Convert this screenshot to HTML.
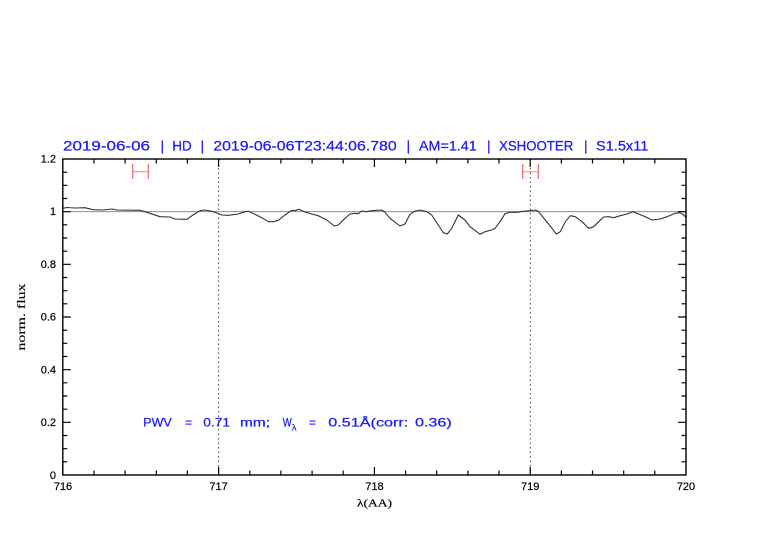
<!DOCTYPE html>
<html>
<head>
<meta charset="utf-8">
<style>
html,body{margin:0;padding:0;background:#fff;}
svg{display:block;}
text{font-family:"Liberation Sans",Arial,sans-serif;}
</style>
</head>
<body>
<svg width="782" height="542" viewBox="0 0 782 542" xmlns="http://www.w3.org/2000/svg">
<rect width="782" height="542" fill="#fff"/>

<!-- title -->
<g font-size="14" fill="#1a1aff" stroke="#1a1aff" stroke-width="0.25">
<text x="63" y="150.3" textLength="87" lengthAdjust="spacingAndGlyphs">2019-06-06</text>
<text x="160.5" y="150.3">|</text>
<text x="172.3" y="150.3" textLength="19.4" lengthAdjust="spacingAndGlyphs">HD</text>
<text x="200.5" y="150.3">|</text>
<text x="213.3" y="150.3" textLength="183.4" lengthAdjust="spacingAndGlyphs">2019-06-06T23:44:06.780</text>
<text x="406.5" y="150.3">|</text>
<text x="419" y="150.3" textLength="57.7" lengthAdjust="spacingAndGlyphs">AM=1.41</text>
<text x="487" y="150.3">|</text>
<text x="499" y="150.3" textLength="74.3" lengthAdjust="spacingAndGlyphs">XSHOOTER</text>
<text x="584" y="150.3">|</text>
<text x="596" y="150.3" textLength="52.3" lengthAdjust="spacingAndGlyphs">S1.5x11</text>
</g>

<!-- reference line at 1 -->
<line x1="62.8" y1="211.6" x2="686" y2="211.6" stroke="#e86a6a" stroke-width="1"/>

<!-- dotted verticals -->
<line x1="218.6" y1="159" x2="218.6" y2="475" stroke="#444" stroke-width="1" stroke-dasharray="1.5,3"/>
<line x1="530.3" y1="159" x2="530.3" y2="475" stroke="#444" stroke-width="1" stroke-dasharray="1.5,3"/>

<!-- error bars -->
<g stroke-width="1.3">
<line x1="132.7" y1="171.7" x2="148.3" y2="171.7" stroke="#f5a0a0"/>
<line x1="132.7" y1="164" x2="132.7" y2="179" stroke="#f07070"/>
<line x1="148.3" y1="164" x2="148.3" y2="179" stroke="#f07070"/>
<line x1="522.7" y1="171.7" x2="538.3" y2="171.7" stroke="#f5a0a0"/>
<line x1="522.7" y1="164" x2="522.7" y2="179" stroke="#f07070"/>
<line x1="538.3" y1="164" x2="538.3" y2="179" stroke="#f07070"/>
</g>

<!-- spectrum -->
<polyline fill="none" stroke="#333" stroke-width="1.1" stroke-linejoin="round" points="
62.8,208.3 67,207.5 75,208 85,207.7 93,209.7 103,210 112,209 117,210 140,210.3 145,211.7 153,214.3 160,216.7 170,217 175,219 187,219.3 193,215 200,210.7 205,210 212,211.3 217,213
221.7,215 228.3,215.3 238.3,214 245,211.7 248.3,211.3 255,214.3 261.7,217.7 268.3,221.7 273.3,221.7 278.3,220.3 285,215 291.7,210.3 295,210.7 299,209.3 303.3,211.3 311.7,214 318.3,215.7 326.7,220 334.3,226 338.3,225 345,218.3 350,214 355,213.3 358.3,213.7 361.7,211 366.7,211.7 371.7,210.7
381.7,210 385,212.3 390,218.3 400,226 405,224 410,214.3 415,211 420,210 426.7,211.7 431.7,215 438.3,225 443.3,232.7 447.3,234 451.7,228.3 458.3,215 465,220 470,226.7 476.7,231.7 480,234.3 485,231.7 491.7,230 495,228.3 500,221.7 505,213.7 510,212.3 516.7,212.3 523.3,211.3 530,210.7
535.3,210 538.7,211.7 545.3,220 552,228.3 556.3,234 560.3,231.7 565.3,221.7 570.3,215.7 575.3,216.7 582,221.7 588.7,228.3 593.7,226.7 598.7,221.7 603.7,217 608.7,216.7 613.7,217.7 620.3,215.7 627,214 633,211.7 638.7,214 645.3,216.7 652,220 660.3,219 667,216.7 675.3,213.3 680.3,212.7 683.7,215 686,217.5"/>

<!-- axes box -->
<rect x="62.8" y="159" width="623.2" height="316" fill="none" stroke="#000" stroke-width="1.4"/>

<!-- ticks -->
<g stroke="#000" stroke-width="1.2">
<path d="
M62.8,475v-8 M94,475v-4.5 M125.1,475v-4.5 M156.3,475v-4.5 M187.4,475v-4.5
M218.6,475v-8 M249.8,475v-4.5 M280.9,475v-4.5 M312.1,475v-4.5 M343.2,475v-4.5
M374.4,475v-8 M405.6,475v-4.5 M436.7,475v-4.5 M467.9,475v-4.5 M499,475v-4.5
M530.2,475v-8 M561.4,475v-4.5 M592.5,475v-4.5 M623.7,475v-4.5 M654.8,475v-4.5
M94,159v4.5 M125.1,159v4.5 M156.3,159v4.5 M187.4,159v4.5
M218.6,159v8 M249.8,159v4.5 M280.9,159v4.5 M312.1,159v4.5 M343.2,159v4.5
M374.4,159v8 M405.6,159v4.5 M436.7,159v4.5 M467.9,159v4.5 M499,159v4.5
M530.2,159v8 M561.4,159v4.5 M592.5,159v4.5 M623.7,159v4.5 M654.8,159v4.5
"/>
<path d="
M62.8,461.8h4.5 M62.8,448.7h4.5 M62.8,435.5h4.5 M62.8,422.3h8
M62.8,409.2h4.5 M62.8,396h4.5 M62.8,382.8h4.5 M62.8,369.7h8
M62.8,356.5h4.5 M62.8,343.3h4.5 M62.8,330.2h4.5 M62.8,317h8
M62.8,303.8h4.5 M62.8,290.7h4.5 M62.8,277.5h4.5 M62.8,264.3h8
M62.8,251.2h4.5 M62.8,238h4.5 M62.8,224.8h4.5 M62.8,211.7h8
M62.8,198.5h4.5 M62.8,185.3h4.5 M62.8,172.2h4.5
M686,461.8h-4.5 M686,448.7h-4.5 M686,435.5h-4.5 M686,422.3h-8
M686,409.2h-4.5 M686,396h-4.5 M686,382.8h-4.5 M686,369.7h-8
M686,356.5h-4.5 M686,343.3h-4.5 M686,330.2h-4.5 M686,317h-8
M686,303.8h-4.5 M686,290.7h-4.5 M686,277.5h-4.5 M686,264.3h-8
M686,251.2h-4.5 M686,238h-4.5 M686,224.8h-4.5 M686,211.7h-8
M686,198.5h-4.5 M686,185.3h-4.5 M686,172.2h-4.5
"/>
</g>

<!-- y tick labels -->
<g font-size="11" fill="#000" stroke="#000" stroke-width="0.2" text-anchor="end">
<text x="56" y="479">0</text>
<text x="56" y="426">0.2</text>
<text x="56" y="373.5">0.4</text>
<text x="56" y="320.5">0.6</text>
<text x="56" y="268">0.8</text>
<text x="56" y="215">1</text>
<text x="56" y="162.5">1.2</text>
</g>

<!-- x tick labels -->
<g font-size="11" fill="#000" stroke="#000" stroke-width="0.2" text-anchor="middle">
<text x="63" y="490">716</text>
<text x="218.6" y="490">717</text>
<text x="374.4" y="490">718</text>
<text x="530.2" y="490">719</text>
<text x="686" y="490">720</text>
</g>

<!-- axis labels -->
<text x="357" y="506.5" font-size="11" fill="#000" stroke="#000" stroke-width="0.2" textLength="35" lengthAdjust="spacingAndGlyphs" font-family="Liberation Serif, serif" style="font-family:'Liberation Serif',serif">λ(AA)</text>
<text transform="translate(25,350.5) rotate(-90)" font-size="12" fill="#000" stroke="#000" stroke-width="0.15" textLength="67" lengthAdjust="spacingAndGlyphs" style="font-family:'Liberation Serif',serif">norm. flux</text>

<!-- annotation -->
<g font-size="12" fill="#1a1aff" stroke="#1a1aff" stroke-width="0.25">
<text x="143.3" y="426.7" textLength="28.4" lengthAdjust="spacingAndGlyphs">PWV</text>
<text x="185" y="426.7">=</text>
<text x="203.3" y="426.7" textLength="26.7" lengthAdjust="spacingAndGlyphs">0.71</text>
<text x="240" y="426.7" textLength="30" lengthAdjust="spacingAndGlyphs">mm;</text>
<text x="282.7" y="426.7" textLength="9" lengthAdjust="spacingAndGlyphs">W</text>
<text x="291.7" y="430.5" font-size="9.5" stroke-width="0.2">λ</text>
<text x="309" y="426.7">=</text>
<text x="328.3" y="426.7" textLength="80" lengthAdjust="spacingAndGlyphs">0.51Å(corr:</text>
<text x="415" y="426.7" textLength="36.7" lengthAdjust="spacingAndGlyphs">0.36)</text>
</g>
</svg>
</body>
</html>
